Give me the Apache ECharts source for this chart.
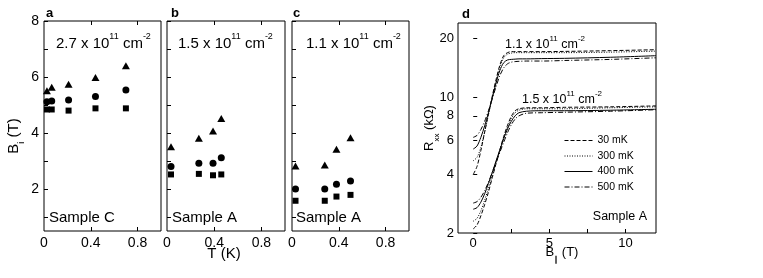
<!DOCTYPE html>
<html><head><meta charset="utf-8">
<script src="https://cdn.jsdelivr.net/npm/echarts@6/dist/echarts.min.js"></script>
<style>html,body{margin:0;padding:0;background:#fff}#c{width:763px;height:278px}</style>
</head><body><div id="c"></div>
<script>
const FONT = '"Liberation Sans", Arial, Helvetica, sans-serif';

// Panel a (Sample C, 2.7e11)
const aT = [0.025, 0.066, 0.21, 0.44, 0.70];
const aTri = [5.51, 5.63, 5.74, 5.98, 6.40];
const aCirc = [5.12, 5.14, 5.18, 5.30, 5.54];
const aSq = [4.84, 4.84, 4.80, 4.88, 4.88];
// Panel b (Sample A, 1.5e11)
const bT = [0.034, 0.27, 0.39, 0.46];
const bTri = [3.51, 3.81, 4.07, 4.52];
const bCirc = [2.80, 2.92, 2.92, 3.12];
const bSq = [2.52, 2.54, 2.49, 2.52];
// Panel c (Sample A, 1.1e11)
const cT = [0.03, 0.28, 0.38, 0.50];
const cTri = [2.82, 2.86, 3.42, 3.83];
const cCirc = [2.00, 2.00, 2.17, 2.29];
const cSq = [1.58, 1.58, 1.73, 1.79];

// Panel d: R_xx (kOhm) vs B_par (T)
const dB = [0, 0.25, 0.5, 0.75, 1.0, 1.25, 1.5, 1.75, 2.0, 2.25, 2.5, 2.75, 3.0, 3.5, 4.5, 6, 9, 12];
const hi30  = [4.0, 4.4, 5.3, 6.6, 8.2, 10.1, 12.3, 14.6, 16.3, 16.9, 17.1, 17.1, 17.1, 17.1, 17.1, 17.15, 17.3, 17.5];
const hi300 = [4.7, 4.9, 5.5, 6.6, 8.1, 9.9, 12.0, 14.2, 15.9, 16.6, 16.8, 16.9, 16.9, 16.9, 16.9, 16.9, 17.0, 17.2];
const hi400 = [5.4, 5.6, 6.2, 7.1, 8.3, 9.9, 11.8, 13.7, 15.0, 15.5, 15.6, 15.65, 15.7, 15.7, 15.75, 15.8, 16.0, 16.3];
const hi500 = [6.2, 6.35, 6.8, 7.5, 8.5, 9.8, 11.3, 12.9, 14.1, 14.8, 15.1, 15.2, 15.25, 15.3, 15.3, 15.4, 15.6, 15.9];
const lo30  = [2.1, 2.2, 2.45, 2.8, 3.25, 3.85, 4.55, 5.35, 6.25, 7.15, 7.95, 8.5, 8.7, 8.8, 8.8, 8.85, 8.9, 9.0];
const lo300 = [2.3, 2.38, 2.6, 2.95, 3.4, 3.95, 4.6, 5.35, 6.2, 7.0, 7.75, 8.3, 8.55, 8.7, 8.7, 8.7, 8.8, 8.9];
const lo400 = [2.65, 2.7, 2.88, 3.18, 3.6, 4.1, 4.7, 5.35, 6.1, 6.85, 7.5, 8.0, 8.3, 8.45, 8.5, 8.5, 8.55, 8.65];
const lo500 = [2.85, 2.9, 3.05, 3.3, 3.65, 4.1, 4.6, 5.2, 5.85, 6.55, 7.2, 7.7, 8.0, 8.25, 8.3, 8.35, 8.45, 8.6];
const tempNames = ['30 mK', '300 mK', '400 mK', '500 mK'];

// tick values
const yTicksBi = [1, 2, 3, 4, 5, 6, 7, 8];
const yLabelsBi = [2, 4, 6, 8];
const xTicksT = [0.4, 0.8];
const xLabelsT = [0, 0.4, 0.8];
const yTicksR = [2, 4, 6, 8, 10, 20];
const xTicksB = [2.5, 5, 7.5, 10];
const xLabelsB = [0, 5, 10];

const chart = echarts.init(document.getElementById('c'), null, {renderer: 'canvas'});

const gridBase = {show: true, borderColor: '#000', borderWidth: 1, backgroundColor: 'transparent', containLabel: false, outerBoundsMode: 'none'};
const grids = [
  Object.assign({left: 44, top: 21, width: 117, height: 210}, gridBase),
  Object.assign({left: 167, top: 21, width: 118, height: 210}, gridBase),
  Object.assign({left: 292, top: 21, width: 117, height: 210}, gridBase),
  Object.assign({left: 458, top: 23, width: 198, height: 210}, gridBase)
];

const tickStyle = {show: true, inside: true, length: 4, lineStyle: {color: '#000', width: 1}};
const xAxes = [];
const yAxes = [];
for (let i = 0; i < 3; i++) {
  xAxes.push({type: 'value', gridIndex: i, min: 0, max: 1, position: 'bottom',
    axisLine: {show: false}, splitLine: {show: false},
    axisTick: Object.assign({customValues: xTicksT}, tickStyle),
    axisLabel: {customValues: xLabelsT, color: '#000', fontFamily: FONT, fontSize: 14, margin: 5, showMinLabel: true}});
  xAxes.push({type: 'value', gridIndex: i, min: 0, max: 1, position: 'top',
    axisLine: {show: false}, splitLine: {show: false},
    axisTick: Object.assign({customValues: xTicksT}, tickStyle),
    axisLabel: {show: false}});
  yAxes.push({type: 'value', gridIndex: i, min: 0.5, max: 8,
    axisLine: {show: false}, splitLine: {show: false},
    axisTick: Object.assign({customValues: yTicksBi}, tickStyle),
    axisLabel: {show: i === 0, customValues: yLabelsBi, color: '#000', fontFamily: FONT, fontSize: 14, margin: 5}});
}
xAxes.push({type: 'value', gridIndex: 3, min: -1, max: 12, position: 'bottom',
  axisLine: {show: false}, splitLine: {show: false},
  axisTick: Object.assign({customValues: xTicksB}, tickStyle),
  axisLabel: {customValues: xLabelsB, color: '#000', fontFamily: FONT, fontSize: 13, margin: 4}});
yAxes.push({type: 'log', logBase: 10, gridIndex: 3, min: 2, max: 24,
  axisLine: {show: false}, splitLine: {show: false}, minorTick: {show: false},
  axisTick: Object.assign({customValues: yTicksR}, tickStyle),
  axisLabel: {customValues: yTicksR, color: '#000', fontFamily: FONT, fontSize: 13, margin: 4}});

function pts(xs, ys) { return xs.map((x, i) => [x, ys[i]]); }
const series = [];
const panels = [[aT, aTri, aCirc, aSq], [bT, bTri, bCirc, bSq], [cT, cTri, cCirc, cSq]];
panels.forEach((p, i) => {
  const [T, tri, circ, sq] = p;
  const common = {type: 'scatter', xAxisIndex: i * 2, yAxisIndex: i, itemStyle: {color: '#000', opacity: 1}, silent: true, clip: true};
  series.push(Object.assign({data: pts(T, tri), symbol: 'triangle', symbolSize: [8, 7]}, common));
  series.push(Object.assign({data: pts(T, circ), symbol: 'circle', symbolSize: 7}, common));
  series.push(Object.assign({data: pts(T, sq), symbol: 'rect', symbolSize: 6}, common));
});
const dashTypes = [[4, 2], [1, 1.5], 'solid', [5, 2, 1, 2]];
const hiSets = [hi30, hi300, hi400, hi500];
const loSets = [lo30, lo300, lo400, lo500];
[hiSets, loSets].forEach(sets => {
  sets.forEach((arr, k) => {
    series.push({type: 'line', name: tempNames[k], xAxisIndex: 6, yAxisIndex: 3,
      data: pts(dB, arr), smooth: 0.3, symbol: 'none', silent: true,
      lineStyle: {color: '#000', width: 1, type: dashTypes[k]}, itemStyle: {color: '#000'}});
  });
});

function supText(base, sup1, mid, sup2, fs, sfs) {
  return {
    text: `{a|${base}}{s|${sup1}}{a|${mid}}{s|${sup2}}`,
    rich: {a: {fontSize: fs, fontFamily: FONT, fill: '#000', lineHeight: fs + 4, verticalAlign: 'bottom'},
           s: {fontSize: sfs, fontFamily: FONT, fill: '#000', lineHeight: fs + 4, verticalAlign: 'top'}}
  };
}
function txt(x, y, text, fs, extra) {
  return {type: 'text', x: x, y: y, silent: true,
    style: Object.assign({text: text, fontSize: fs, fontFamily: FONT, fill: '#000', verticalAlign: 'middle', align: 'left'}, extra || {})};
}
function richTxt(x, y, r) {
  return {type: 'text', x: x, y: y, silent: true,
    style: Object.assign({verticalAlign: 'middle', align: 'left', fill: '#000'}, r)};
}

const graphic = [
  txt(46, 13, 'a', 13, {fontWeight: 'bold'}),
  txt(171, 13, 'b', 13, {fontWeight: 'bold'}),
  txt(293, 13, 'c', 13, {fontWeight: 'bold'}),
  txt(462, 14, 'd', 13, {fontWeight: 'bold'}),
  richTxt(56, 42, supText('2.7 x 10', '11', ' cm', '-2', 15, 9)),
  richTxt(178, 42, supText('1.5 x 10', '11', ' cm', '-2', 15, 9)),
  richTxt(306, 42, supText('1.1 x 10', '11', ' cm', '-2', 15, 9)),
  txt(49, 218, 'Sample C', 15),
  txt(172, 218, 'Sample A', 15),
  txt(296, 218, 'Sample A', 15),
  txt(647, 217, 'Sample A', 12.5, {align: 'right'}),
  richTxt(505, 43, supText('1.1 x 10', '11', ' cm', '-2', 12.5, 8)),
  richTxt(522, 98, supText('1.5 x 10', '11', ' cm', '-2', 12.5, 8)),
  txt(224, 254, 'T (K)', 15, {align: 'center'}),
  {type: 'text', x: 16, y: 136, rotation: Math.PI / 2, silent: true,
    style: {text: '{a|B}{b|i}{a| (T)}', align: 'center', verticalAlign: 'middle',
      rich: {a: {fontSize: 15, fontFamily: FONT, fill: '#000', lineHeight: 20, verticalAlign: 'top'},
             b: {fontSize: 9, fontFamily: FONT, fill: '#000', lineHeight: 20, verticalAlign: 'bottom'}}}},
  {type: 'text', x: 432, y: 128, rotation: Math.PI / 2, silent: true,
    style: {text: '{a|R}{b|xx}{a| (kΩ)}', align: 'center', verticalAlign: 'middle',
      rich: {a: {fontSize: 13, fontFamily: FONT, fill: '#000', lineHeight: 18, verticalAlign: 'top'},
             b: {fontSize: 8, fontFamily: FONT, fill: '#000', lineHeight: 18, verticalAlign: 'bottom'}}}},
  {type: 'text', x: 562, y: 255, silent: true,
    style: {text: '{a|B}{b|∥}{a| (T)}', align: 'center', verticalAlign: 'middle',
      rich: {a: {fontSize: 13, fontFamily: FONT, fill: '#000', lineHeight: 18, verticalAlign: 'top'},
             b: {fontSize: 8, fontFamily: FONT, fill: '#000', lineHeight: 18, verticalAlign: 'bottom'}}}}
];

chart.setOption({
  animation: false,
  backgroundColor: '#fff',
  grid: grids,
  xAxis: xAxes,
  yAxis: yAxes,
  legend: {data: tempNames, orient: 'vertical', left: 564, top: 135, itemWidth: 28, itemHeight: 10, itemGap: 4.5,
    selectedMode: false, padding: 0,
    itemStyle: {opacity: 0, borderWidth: 0},
    lineStyle: {width: 1},
    textStyle: {color: '#000', fontFamily: FONT, fontSize: 10.5}},
  series: series,
  graphic: graphic
});
</script></body></html>
